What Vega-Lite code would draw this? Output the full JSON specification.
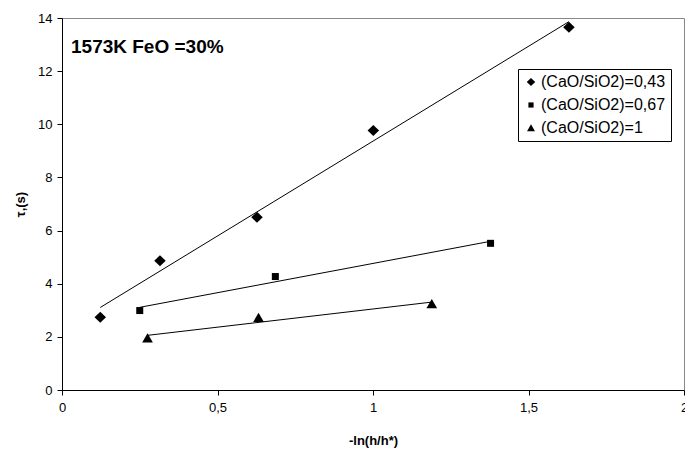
{
  "$schema": "https://vega.github.io/schema/vega-lite/v6.json",
  "width": 622,
  "height": 372,
  "autosize": {"type": "none"},
  "padding": {"left": 62, "top": 18, "right": 1, "bottom": 67},
  "background": "white",
  "title": {
    "text": "1573K FeO =30%",
    "anchor": "start",
    "frame": "group",
    "orient": "top",
    "offset": 0,
    "baseline": "alphabetic",
    "dx": 9,
    "dy": 60,
    "font": "Liberation Sans",
    "fontSize": 19,
    "fontWeight": "bold",
    "color": "black"
  },
  "config": {
    "view": {"stroke": "#888888", "strokeWidth": 1},
    "axis": {
      "domainColor": "black",
      "tickColor": "black",
      "labelColor": "black",
      "titleColor": "black",
      "labelFont": "Liberation Sans",
      "titleFont": "Liberation Sans",
      "labelFontSize": 13,
      "titleFontSize": 13,
      "titleFontWeight": "bold",
      "grid": false,
      "tickSize": 5
    },
    "legend": {
      "labelFont": "Liberation Sans",
      "labelFontSize": 16,
      "labelColor": "black"
    }
  },
  "data": {
    "values": [
      {"series": "(CaO/SiO2)=0,43", "x": 0.123, "y": 2.74},
      {"series": "(CaO/SiO2)=0,43", "x": 0.315, "y": 4.86},
      {"series": "(CaO/SiO2)=0,43", "x": 0.627, "y": 6.5},
      {"series": "(CaO/SiO2)=0,43", "x": 1.001, "y": 9.77},
      {"series": "(CaO/SiO2)=0,43", "x": 1.63, "y": 13.65},
      {"series": "(CaO/SiO2)=0,67", "x": 0.25, "y": 2.99},
      {"series": "(CaO/SiO2)=0,67", "x": 0.686, "y": 4.27},
      {"series": "(CaO/SiO2)=0,67", "x": 1.378, "y": 5.52},
      {"series": "(CaO/SiO2)=1", "x": 0.275, "y": 1.95},
      {"series": "(CaO/SiO2)=1", "x": 0.632, "y": 2.72},
      {"series": "(CaO/SiO2)=1", "x": 1.189, "y": 3.24}
    ]
  },
  "layer": [
    {
      "transform": [{"regression": "y", "on": "x", "groupby": ["series"]}],
      "mark": {"type": "line", "color": "black", "strokeWidth": 1},
      "encoding": {
        "x": {"field": "x", "type": "quantitative"},
        "y": {"field": "y", "type": "quantitative"},
        "detail": {"field": "series"}
      }
    },
    {
      "mark": {"type": "point", "filled": true, "color": "black", "opacity": 1, "size": 100, "strokeWidth": 0},
      "encoding": {
        "x": {
          "field": "x",
          "type": "quantitative",
          "scale": {"domain": [0, 2], "nice": false, "zero": false},
          "axis": {
            "title": "-ln(h/h*)",
            "values": [0, 0.5, 1, 1.5, 2],
            "labelExpr": "replace(toString(datum.value), '.', ',')",
            "labelPadding": 6,
            "titlePadding": 20,
            "labelFlush": false
          }
        },
        "y": {
          "field": "y",
          "type": "quantitative",
          "scale": {"domain": [0, 14], "nice": false},
          "axis": {
            "title": "τ,(s)",
            "values": [0, 2, 4, 6, 8, 10, 12, 14],
            "labelPadding": 5,
            "titlePadding": 10
          }
        },
        "shape": {
          "field": "series",
          "type": "nominal",
          "scale": {
            "domain": ["(CaO/SiO2)=0,43", "(CaO/SiO2)=0,67", "(CaO/SiO2)=1"],
            "range": ["M-1.15,0L0,-1.1L1.15,0L0,1.1Z", "M-0.7,-0.7L0.7,-0.7L0.7,0.7L-0.7,0.7Z", "M-1.07,0.85L0,-1L1.07,0.85Z"]
          },
          "legend": {
            "title": null,
            "orient": "none",
            "legendX": 456,
            "legendY": 51,
            "strokeColor": "black",
            "fillColor": "white",
            "padding": 5,
            "rowPadding": 7,
            "symbolFillColor": "black",
            "symbolStrokeColor": "black",
            "symbolStrokeWidth": 0,
            "symbolSize": 55,
            "labelOffset": 2
          }
        }
      }
    }
  ]
}
